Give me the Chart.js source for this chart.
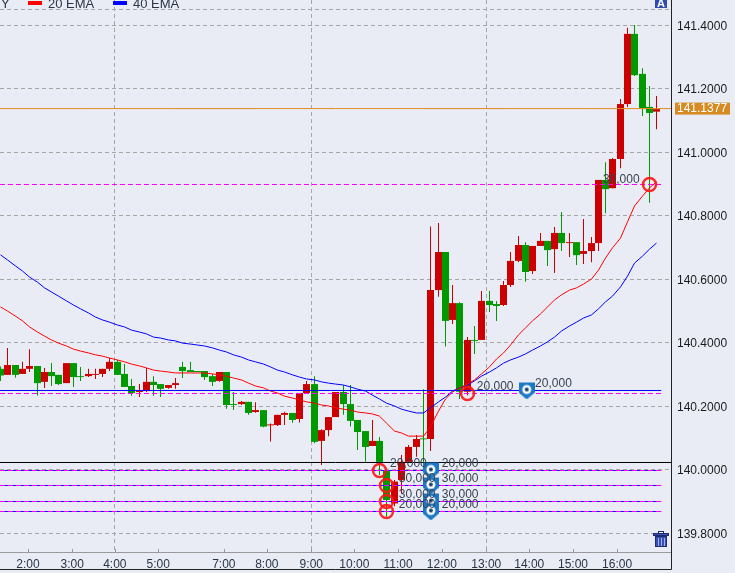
<!DOCTYPE html>
<html>
<head>
<meta charset="utf-8">
<title>USD/JPY 10 min</title>
<script src="https://cdn.jsdelivr.net/npm/chart.js@4/dist/chart.umd.min.js"></script>
<style>
  html, body { margin: 0; padding: 0; background: #E9ECF5; overflow: hidden; }
  canvas { display: block; }
</style>
</head>
<body>
<canvas id="myChart" width="735" height="573"></canvas>
<script>
//DATA
const opens = [140.318,140.299,140.330,140.302,140.318,140.327,140.277,140.308,140.299,140.273,140.336,140.295,140.295,140.299,140.302,140.318,140.340,140.302,140.264,140.245,140.248,140.277,140.270,140.258,140.267,140.324,140.314,140.311,140.311,140.295,140.280,140.308,140.207,140.207,140.214,140.182,140.188,140.140,140.141,140.173,140.179,140.160,140.242,140.270,140.091,140.125,140.166,140.245,140.207,140.157,140.122,140.075,140.091,139.999,139.894,139.968,140.025,140.072,140.099,140.097,140.566,140.686,140.472,140.525,140.246,140.409,140.409,140.532,140.522,140.519,140.582,140.658,140.708,140.626,140.705,140.721,140.695,140.746,140.714,140.717,140.680,140.689,140.714,140.913,140.887,140.979,141.152,141.373,141.247,141.143,141.128];
const highs = [140.325,140.384,140.330,140.340,140.380,140.327,140.321,140.336,140.299,140.336,140.336,140.324,140.318,140.318,140.318,140.352,140.346,140.333,140.286,140.270,140.321,140.295,140.270,140.267,140.289,140.340,140.340,140.311,140.311,140.302,140.308,140.308,140.245,140.217,140.214,140.213,140.188,140.146,140.173,140.183,140.179,140.242,140.280,140.295,140.128,140.166,140.245,140.267,140.267,140.157,140.122,140.157,140.103,139.999,139.968,140.047,140.078,140.110,140.254,140.766,140.777,140.686,140.582,140.528,140.418,140.453,140.563,140.563,140.532,140.595,140.686,140.736,140.717,140.705,140.746,140.721,140.765,140.812,140.746,140.717,140.790,140.733,140.913,140.969,140.982,141.168,141.392,141.401,141.265,141.209,141.177];
const lows = [140.280,140.299,140.290,140.302,140.308,140.234,140.258,140.264,140.267,140.273,140.261,140.280,140.292,140.286,140.292,140.311,140.299,140.261,140.233,140.229,140.245,140.233,140.229,140.255,140.255,140.289,140.308,140.308,140.283,140.264,140.277,140.192,140.188,140.204,140.173,140.180,140.134,140.089,140.138,140.141,140.148,140.149,140.239,140.084,140.015,140.106,140.166,140.173,140.136,140.062,140.025,140.075,139.984,139.852,139.885,139.926,140.025,140.041,140.020,140.059,140.545,140.388,140.459,140.223,140.235,140.365,140.409,140.497,140.469,140.516,140.576,140.654,140.592,140.617,140.705,140.642,140.620,140.689,140.670,140.645,140.648,140.654,140.689,140.808,140.887,140.950,141.143,141.240,141.114,140.841,141.073];
const closes = [140.297,140.330,140.299,140.318,140.327,140.273,140.308,140.295,140.270,140.336,140.292,140.292,140.302,140.302,140.318,140.340,140.299,140.261,140.242,140.248,140.277,140.267,140.255,140.267,140.273,140.311,140.308,140.308,140.292,140.277,140.308,140.204,140.204,140.214,140.179,140.188,140.136,140.143,140.173,140.179,140.157,140.242,140.270,140.088,140.125,140.166,140.245,140.207,140.154,140.119,140.072,140.091,140.025,139.905,139.963,140.025,140.072,140.097,140.096,140.566,140.686,140.469,140.525,140.246,140.409,140.406,140.532,140.519,140.516,140.582,140.658,140.708,140.623,140.705,140.721,140.692,140.746,140.714,140.717,140.676,140.689,140.714,140.913,140.884,140.979,141.152,141.373,141.243,141.139,141.124,141.136];
const ema20 = [140.513,140.500,140.484,140.469,140.450,140.434,140.421,140.409,140.399,140.390,140.380,140.374,140.368,140.362,140.358,140.352,140.346,140.340,140.333,140.327,140.321,140.314,140.311,140.308,140.305,140.305,140.305,140.305,140.305,140.302,140.299,140.295,140.289,140.283,140.273,140.264,140.258,140.248,140.242,140.232,140.226,140.220,140.214,140.210,140.204,140.201,140.195,140.191,140.188,140.182,140.179,140.176,140.169,140.147,140.122,140.116,140.106,140.106,140.106,140.135,140.185,140.223,140.245,140.258,140.270,140.283,140.302,140.324,140.349,140.368,140.393,140.425,140.447,140.469,140.491,140.513,140.535,140.551,140.566,140.573,140.585,140.601,140.629,140.667,140.699,140.730,140.781,140.831,140.862,140.888,140.907];
const ema40 = [140.677,140.661,140.642,140.626,140.607,140.591,140.573,140.560,140.547,140.532,140.519,140.507,140.494,140.481,140.472,140.465,140.456,140.450,140.440,140.434,140.428,140.418,140.415,140.409,140.406,140.399,140.396,140.393,140.390,140.384,140.377,140.371,140.362,140.355,140.346,140.340,140.333,140.324,140.314,140.308,140.299,140.292,140.286,140.283,140.277,140.273,140.270,140.267,140.261,140.254,140.248,140.235,140.223,140.210,140.201,140.191,140.185,140.179,140.179,140.195,140.214,140.229,140.248,140.258,140.267,140.280,140.295,140.308,140.321,140.336,140.346,140.355,140.365,140.377,140.390,140.403,140.418,140.437,140.453,140.465,140.478,140.488,140.507,140.529,140.547,140.576,140.610,140.651,140.673,140.695,140.714];

const priceTicks = [139.8,140.0,140.2,140.4,140.6,140.8,141.0,141.2,141.4];
const extraGrid = [141.451];
const timeLabels = ['2:00','3:00','4:00','5:00','7:00','8:00','9:00','10:00','11:00','12:00','13:00','14:00','15:00','16:00'];
const timeTicks = [3.84,9.9,15.75,21.7,30.7,36.6,42.7,48.6,54.6,60.6,66.7,72.6,78.6,84.65];
const gridTimes = ['4:00','9:00','13:00'];

const currentPrice = 141.1377;
const levelPrices = [140.2498,140.2403,140.8986,140.0230,139.9978,139.9978,139.9506,139.9506,139.9002,139.9002,139.8687,139.8687];
const levelColors = ['#0000FF','#FF00FF','#FF00FF','#000000','#0000FF','#FF00FF','#0000FF','#FF00FF','#0000FF','#FF00FF','#0000FF','#FF00FF'];
const levelDashed = [false,true,true,false,false,true,false,true,false,true,false,true];
const levelEnds = [90.7,90.7,90.7,92.04,90.7,90.7,90.7,90.7,90.7,90.7,90.7,90.7];

const ringX = [52,53,53,53,64,89];
const ringPrices = [139.9978,139.9506,139.9002,139.8687,140.2403,140.8986];
const pinX = [59.1,59.1,59.1,59.1,72.25];
const pinPrices = [139.9978,139.9506,139.9002,139.8687,140.2498];

const noteTexts = ['20,000','20,000','30,000','30,000','30,000','30,000','20,000','20,000','20,000','20,000','30,000'];
const noteX = [53.5,60.6,54.7,60.6,54.7,60.6,54.7,60.6,65.4,73.4,82.7];
const notePrices = [140.019,140.019,139.971,139.971,139.921,139.921,139.889,139.889,140.261,140.271,140.914];

const RED = '#CC0000', GREEN = '#009900', GRID = '#A6A6A6';
const FONT = '"Liberation Sans", Arial, sans-serif';
const xMax = 92.04;

//SETUP
const candleColors = closes.map((c, i) => c > opens[i] ? RED : GREEN);

//candles sit on whole pixels so 1px wicks stay sharp
const pxPerBar = 671 / xMax;
const barX = i => (Math.floor(i * pxPerBar + 0.6) + 0.5) / pxPerBar;

function makePin() {
  const c = document.createElement('canvas');
  c.width = 16; c.height = 18;
  const g = c.getContext('2d');
  g.fillStyle = '#1C78C4';
  g.beginPath();
  g.moveTo(0, 1); g.lineTo(16, 1); g.lineTo(16, 11); g.lineTo(8, 18); g.lineTo(0, 11);
  g.closePath(); g.fill();
  g.fillStyle = '#FFFFFF';
  g.beginPath(); g.arc(8, 8, 4.5, 0, Math.PI * 2); g.fill();
  g.fillStyle = '#123F70';
  g.beginPath(); g.arc(8, 8, 2, 0, Math.PI * 2); g.fill();
  return c;
}

const datasets = [];
datasets.push({
  type: 'bar', label: 'bodies', order: 10, grouped: false, barThickness: 7, inflateAmount: 0,
  data: closes.map((c, i) => ({ x: barX(i), y: [opens[i], c] })),
  backgroundColor: candleColors
});
datasets.push({
  type: 'bar', label: 'wicks', order: 11, grouped: false, barThickness: 1, inflateAmount: 0,
  data: highs.map((h, i) => ({ x: barX(i), y: [lows[i], h] })),
  backgroundColor: candleColors
});
datasets.push({
  type: 'line', label: '20 EMA', order: 5, borderColor: '#FF0000', borderWidth: 1, pointRadius: 0,
  data: ema20.map((v, i) => ({ x: barX(i), y: v }))
});
datasets.push({
  type: 'line', label: '40 EMA', order: 5, borderColor: '#0000FF', borderWidth: 1, pointRadius: 0,
  data: ema40.map((v, i) => ({ x: barX(i), y: v }))
});
levelPrices.forEach((p, k) => {
  datasets.push({
    type: 'line', label: 'level ' + k, order: levelDashed[k] ? 3.5 : 4, borderColor: levelColors[k], borderWidth: 1,
    borderDash: levelDashed[k] ? [5, 3] : [], pointRadius: 0,
    data: [{ x: 0, y: p }, { x: levelEnds[k], y: p }]
  });
});
datasets.push({
  type: 'line', label: 'price', order: 4, borderColor: '#E58A1F', borderWidth: 1, pointRadius: 0,
  data: [{ x: 0, y: currentPrice }, { x: xMax, y: currentPrice }]
});
datasets.push({
  type: 'line', label: 'pins', order: 3, showLine: false, pointStyle: makePin(),
  data: pinX.map((x, i) => ({ x: x, y: pinPrices[i] }))
});
datasets.push({
  type: 'line', label: 'rings', order: 2, showLine: false, pointStyle: 'circle', pointRadius: 6.5,
  pointBorderWidth: 2.5, pointBorderColor: 'rgba(255,20,20,0.9)', pointBackgroundColor: 'transparent',
  data: ringX.map((x, i) => ({ x: barX(x), y: ringPrices[i] }))
});

//small things the library has no element for: notes, header, price tag, icons, frame
const extras = {
  id: 'extras',
  afterDatasetsDraw(chart) {
    const g = chart.ctx, xs = chart.scales.x, ys = chart.scales.y, a = chart.chartArea;
    g.save();
    g.textBaseline = 'middle';
    g.textAlign = 'left';
    g.font = '12px ' + FONT;
    g.fillStyle = '#3A4250';
    noteTexts.forEach((t, i) => {
      g.fillText(t, xs.getPixelForValue(noteX[i]), ys.getPixelForValue(notePrices[i]));
    });

    //header, cut off by the top edge
    g.font = '13px ' + FONT;
    g.fillStyle = '#2A3444';
    g.textBaseline = 'alphabetic';
    g.fillText('Y', 1, 8);
    g.fillStyle = '#FF0000'; g.fillRect(28, 1, 14, 4);
    g.fillStyle = '#2A3444'; g.fillText('20 EMA', 48, 8);
    g.fillStyle = '#0000FF'; g.fillRect(113, 1, 14, 4);
    g.fillStyle = '#2A3444'; g.fillText('40 EMA', 133, 8);

    //A button
    g.fillStyle = '#2F4BAF'; g.fillRect(655, 0, 12, 8);
    g.fillStyle = '#FFFFFF'; g.font = 'bold 11px ' + FONT; g.textAlign = 'center';
    g.fillText('A', 661, 7);

    //trash can
    g.fillStyle = '#3A4FB5'; g.strokeStyle = '#1F2C70'; g.lineWidth = 1;
    g.fillRect(653.5, 534, 15, 2);
    g.strokeRect(653.5, 533.5, 15, 2);
    g.fillRect(655, 536, 12, 11);
    g.strokeRect(655.5, 536.5, 11, 10);
    g.strokeRect(658.5, 531.5, 5, 2);
    g.strokeStyle = '#9FB0E8';
    [658, 661, 664].forEach(x => { g.beginPath(); g.moveTo(x + 0.5, 538); g.lineTo(x + 0.5, 546); g.stroke(); });

    //current price tag
    const py = ys.getPixelForValue(currentPrice);
    g.fillStyle = '#D68A22'; g.fillRect(a.right + 4, py - 6, 55, 12);
    g.fillStyle = '#FFFFFF'; g.font = '12px ' + FONT; g.textAlign = 'left'; g.textBaseline = 'middle';
    g.fillText(currentPrice.toFixed(4), a.right + 6, py + 0.5);

    //outer frame
    g.strokeStyle = '#222222'; g.lineWidth = 1;
    g.beginPath();
    g.moveTo(a.right + 0.5, 0); g.lineTo(a.right + 0.5, a.bottom + 17.5); g.lineTo(0, a.bottom + 17.5);
    g.stroke();

    //small marks inside the time axis
    g.strokeStyle = '#999999';
    timeTicks.forEach(v => {
      const x = Math.round(xs.getPixelForValue(v)) + 0.5;
      g.beginPath(); g.moveTo(x, a.bottom - 3); g.lineTo(x, a.bottom); g.stroke();
    });
    g.restore();
  }
};

//no room kept for labels hanging over the plot edge
function noPadding(s) {
  s.paddingLeft = s.paddingRight = s.paddingTop = s.paddingBottom = 0;
}

//CONFIG
const config = {
  type: 'bar',
  data: { datasets },
  plugins: [extras],
  options: {
    responsive: false,
    animation: false,
    events: [],
    layout: { padding: 0, autoPadding: false },
    plugins: { legend: { display: false }, tooltip: { enabled: false } },
    scales: {
      x: {
        type: 'linear', offset: false, min: 0, max: xMax,
        afterBuildTicks: s => { s.ticks = timeTicks.map(v => ({ value: v })); },
        afterFit: s => { s.height = 21; noPadding(s); },
        ticks: {
          autoSkip: false, maxRotation: 0, padding: 5, color: '#2A3444', font: { size: 12, family: FONT },
          callback: v => timeLabels[timeTicks.indexOf(v)]
        },
        grid: {
          drawTicks: false,
          offset: false,
          color: c => c.tick && gridTimes.includes(timeLabels[timeTicks.indexOf(c.tick.value)]) ? GRID : 'transparent'
        },
        border: { color: '#999999', dash: [4, 3] }
      },
      y: {
        position: 'right', min: 139.7411, max: 141.4797,
        afterBuildTicks: s => { s.ticks = priceTicks.concat(extraGrid).map(v => ({ value: v })); },
        afterFit: s => { s.width = 64; noPadding(s); },
        ticks: {
          autoSkip: false, padding: 6, labelOffset: 1, color: '#1A1A1A', font: { size: 12, family: FONT },
          callback: v => priceTicks.includes(v) ? v.toFixed(4) : ''
        },
        grid: { drawTicks: false, color: GRID },
        border: { color: '#222222', dash: [4, 3] }
      }
    }
  }
};

//RENDER
new Chart(document.getElementById('myChart'), config);
</script>
</body>
</html>
